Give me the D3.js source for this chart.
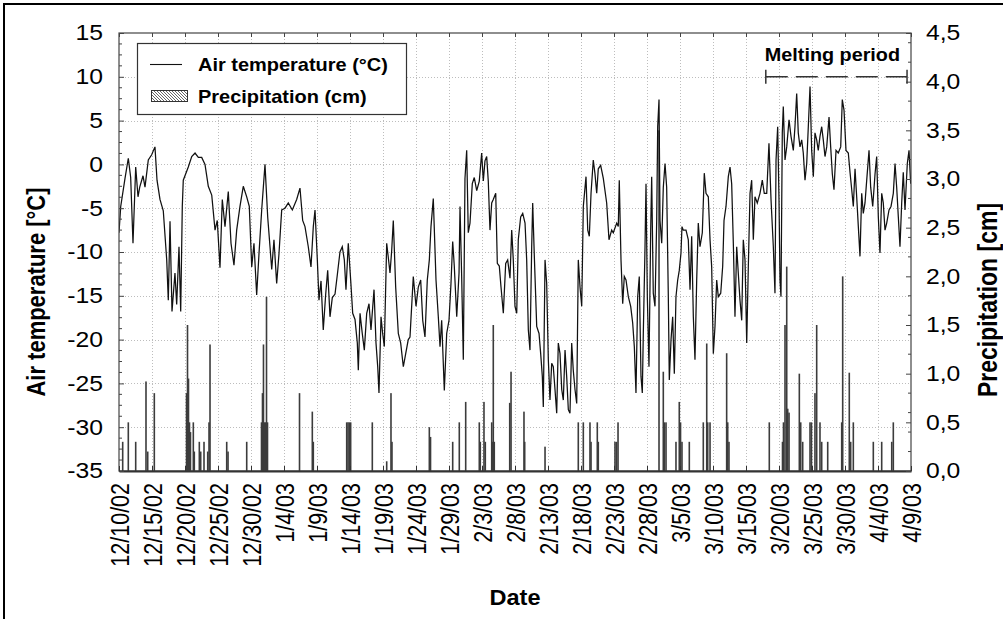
<!DOCTYPE html>
<html>
<head>
<meta charset="utf-8">
<script src="https://cdn.jsdelivr.net/npm/d3@7"></script>
<style>
  body { margin: 0; background: #fff; }
  svg text { font-family: "Liberation Sans", Arial, sans-serif; fill: #000; }
</style>
</head>
<body>
<svg id="chart" width="1003" height="619"></svg>
<script>
// Date axis: days counted from 12/10/02, labelled every 5 days
const dateTickDays = [0,5,10,15,20,25,30,35,40,45,50,55,60,65,70,75,80,85,90,95,100,105,110,115,120];
const dateTickLabels = ["12/10/02","12/15/02","12/20/02","12/25/02","12/30/02","1/4/03","1/9/03","1/14/03",
  "1/19/03","1/24/03","1/29/03","2/3/03","2/8/03","2/13/03","2/18/03","2/23/03","2/28/03","3/5/03",
  "3/10/03","3/15/03","3/20/03","3/25/03","3/30/03","4/4/03","4/9/03"];
const tempTicks = [-35,-30,-25,-20,-15,-10,-5,0,5,10,15];
const tempTickLabels = ["-35","-30","-25","-20","-15","-10","-5","0","5","10","15"];
const precipTicks = [0,0.5,1,1.5,2,2.5,3,3.5,4,4.5];
const precipTickLabels = ["0,0","0,5","1,0","1,5","2,0","2,5","3,0","3,5","4,0","4,5"];

// Air temperature (°C): day offset and value
const tempDay = [0.00,0.26,0.91,1.41,1.77,2.12,2.53,2.88,3.14,3.64,3.94,4.44,4.95,5.45,5.76,6.21,6.71,7.23,7.47,7.73,
  8.03,8.48,8.74,9.09,9.35,9.59,9.74,10.50,11.02,11.52,12.02,12.53,13.03,13.53,
  14.05,14.55,14.89,15.30,15.65,16.06,16.56,16.97,17.42,17.83,18.33,18.83,19.35,19.74,20.11,20.45,20.86,21.21,
  21.62,22.12,22.53,22.88,23.14,23.48,23.89,24.24,24.65,25.15,25.65,26.26,26.92,27.42,27.83,28.18,28.68,29.09,29.44,
  29.70,30.05,30.30,30.61,30.95,31.32,31.62,31.97,32.32,32.73,33.08,33.48,33.83,34.14,34.39,34.74,35.11,35.41,35.76,
  36.11,36.26,36.52,36.86,37.17,37.53,37.88,38.18,38.64,38.94,39.20,39.39,39.70,39.95,40.20,40.56,40.80,41.06,41.32,
  41.56,41.92,42.32,42.68,43.08,43.44,43.83,44.09,44.59,
  45.00,45.35,45.71,46.02,46.36,46.71,47.02,47.27,47.62,48.03,48.38,48.64,48.89,49.29,49.65,50.00,50.30,50.56,50.80,
  51.17,51.52,51.67,51.92,52.17,52.42,52.68,52.92,53.18,53.53,53.83,54.20,54.59,54.95,55.20,55.45,55.71,55.95,56.21,
  56.47,56.71,57.08,57.32,57.62,57.88,58.23,58.59,58.89,59.24,59.50,
  59.74,60.00,60.26,60.50,60.86,61.17,61.52,61.77,62.02,62.27,62.53,62.68,62.92,63.29,63.64,63.89,64.14,64.29,64.55,
  64.80,65.05,65.30,65.56,65.80,66.06,66.32,66.56,66.82,67.08,67.32,67.58,67.83,68.08,68.33,68.59,68.83,69.09,69.35,
  69.59,69.85,70.11,70.35,70.76,71.02,71.26,71.52,71.86,72.12,72.38,72.62,72.98,73.38,73.89,74.24,74.65,
  74.89,75.41,75.65,75.80,76.06,76.32,76.56,76.82,77.17,77.53,77.83,78.08,78.33,78.59,78.83,79.09,79.29,79.44,79.70,
  79.85,80.05,80.30,80.56,80.71,80.95,81.21,81.47,81.62,81.82,81.97,82.23,82.47,82.73,82.98,83.23,83.38,83.64,83.89,
  84.14,84.39,84.65,84.89,85.15,85.30,85.50,85.91,86.26,86.52,86.77,87.02,87.27,87.53,87.77,88.03,88.38,88.68,88.94,
  89.29,89.55,89.80,
  90.05,90.30,90.56,90.80,91.17,91.47,91.67,91.97,92.32,92.58,92.83,93.08,93.33,93.59,93.83,94.09,94.35,94.59,94.85,
  95.11,95.35,95.61,95.86,96.11,96.36,96.71,97.12,97.47,97.77,98.14,98.48,98.79,99.14,99.39,99.55,99.80,100.00,100.15,
  100.30,100.50,100.65,100.91,101.17,101.52,101.82,102.17,102.42,102.68,102.92,103.18,103.44,103.68,103.94,104.20,
  104.44,104.70,
  104.95,105.20,105.45,105.71,105.95,106.21,106.47,106.71,106.97,107.23,107.58,107.83,108.08,108.33,108.64,108.98,
  109.35,109.59,109.85,110.15,110.50,110.76,111.02,111.26,111.52,111.77,112.02,112.27,112.53,112.77,113.03,113.29,
  113.64,113.89,114.20,114.55,114.80,115.05,115.30,115.56,115.80,116.06,116.32,116.67,116.97,117.32,117.58,117.83,
  118.08,118.33,118.59,118.83,119.09,119.44,119.70,119.95];
const tempValue = [-7.8,-4.8,-1.6,0.7,-1.5,-9.0,-0.3,-3.7,-2.6,-1.3,-2.6,0.5,1.1,2.0,-1.8,-4.0,-5.3,-10.9,-15.5,-6.5,
  -16.8,-12.4,-16.0,-9.4,-16.8,-4.8,-1.8,-0.3,0.9,1.3,0.8,0.8,0.0,-2.5,
  -3.5,-7.5,-6.4,-11.8,-4.0,-7.1,-3.1,-9.0,-11.5,-7.5,-4.8,-2.5,-3.7,-4.8,-11.7,-9.0,-14.9,-10.2,
  -5.2,0.0,-6.0,-9.4,-12.0,-8.6,-13.6,-10.2,-5.2,-5.0,-4.4,-5.2,-4.0,-2.7,-6.4,-7.1,-9.4,-11.7,-7.1,
  -5.2,-10.9,-15.5,-13.3,-18.9,-14.8,-12.1,-17.4,-15.2,-14.8,-12.6,-10.0,-9.4,-10.9,-14.3,-9.0,-13.3,-17.0,-17.7,
  -20.4,-23.5,-17.0,-19.3,-21.2,-17.0,-15.9,-18.9,-14.3,-20.4,-23.1,-26.1,-17.4,-19.3,-20.8,-9.0,-10.6,-12.4,-9.8,
  -6.4,-14.0,-19.3,-20.4,-23.1,-21.6,-20.0,-19.7,-12.8,
  -16.2,-14.0,-13.2,-17.8,-19.7,-13.2,-10.9,-7.1,-3.9,-13.2,-17.4,-20.8,-17.8,-25.8,-19.3,-17.8,-13.6,-8.8,-11.6,
  -17.4,-12.4,-4.8,-12.8,-22.3,-1.6,1.6,-7.8,-6.7,-2.2,-1.5,-3.0,-1.9,1.3,-1.9,0.4,0.9,-1.9,-7.5,
  -4.4,-4.0,-3.3,-11.3,-11.6,-14.0,-17.0,-11.3,-10.9,-13.0,-7.5,
  -10.9,-16.2,-17.0,-8.6,-6.0,-5.6,-6.7,-10.9,-18.9,-21.2,-9.4,-4.4,-10.3,-18.5,-19.3,-21.6,-24.2,-27.7,-10.9,
  -13.6,-22.3,-26.9,-22.7,-23.1,-25.7,-28.4,-20.4,-21.6,-25.7,-26.9,-21.2,-24.2,-28.0,-28.4,-20.4,-23.5,-25.7,-27.3,
  -10.9,-14.0,-16.2,-4.8,-1.4,-7.5,-8.2,-3.3,0.5,-1.1,-3.3,-0.5,-0.1,-1.6,-4.4,-8.6,-7.5,
  -7.8,-6.7,-7.1,-1.8,-10.9,-15.9,-12.8,-13.2,-15.1,-16.2,-18.1,-20.8,-26.1,-15.1,-12.8,-24.2,-26.1,-19.3,-9.4,
  -2.2,-15.1,-23.1,-7.5,-1.4,-14.7,-16.2,-6.4,4.3,7.4,-6.4,-9.0,-2.6,0.1,-2.6,-15.1,-24.6,-20.0,-17.4,
  -23.9,-15.1,-13.2,-12.1,-10.1,-7.1,-7.5,-7.5,-8.6,-14.3,-8.2,-17.4,-22.3,-13.2,-6.7,-9.4,-7.8,-1.0,-3.3,
  -3.7,-8.6,-11.7,
  -21.6,-18.5,-13.2,-15.1,-14.7,-11.6,-6.4,-4.8,-1.4,-0.3,-2.2,-9.0,-17.4,-9.4,-12.4,-15.5,-17.8,-8.6,-10.9,
  -20.4,-11.7,-3.3,-1.8,-8.6,-3.7,-4.4,-3.3,-1.8,-3.3,-3.3,2.4,-4.0,-9.4,-14.7,0.5,4.3,-4.0,-13.2,
  -15.1,3.6,6.6,0.5,2.0,5.1,3.2,1.6,4.3,8.1,3.6,2.0,2.8,1.3,-1.8,0.1,
  4.3,8.9,
  1.6,-1.4,3.6,2.8,1.6,3.2,4.3,2.8,0.9,2.0,5.4,2.0,-1.1,-2.9,1.6,1.3,
  2.0,7.4,6.2,1.6,1.3,-0.9,-2.9,-4.8,-0.5,-3.7,-7.1,-10.5,-3.3,-5.6,-4.4,-1.8,
  1.6,-2.6,-4.8,-1.1,0.9,-6.0,-10.1,-3.3,-4.4,-7.5,-6.7,-5.2,-4.8,-3.3,0.1,-2.6,
  -6.0,-9.4,-4.4,-0.9,-5.2,0.1,1.6,-2.2];

// Precipitation (cm): day offset and amount
const precipDay = [0.56,1.41,2.53,4.09,4.35,5.35,10.23,10.38,10.53,10.68,10.83,11.26,11.41,12.17,12.38,12.88,13.44,
  13.64,13.79,16.32,16.52,19.35,21.59,21.74,21.89,22.05,22.20,22.35,22.50,27.35,29.29,29.44,34.50,34.70,34.90,35.10,
  38.38,40.56,41.21,41.36,47.02,47.20,50.56,51.56,52.53,54.59,54.74,55.30,55.50,56.47,56.62,56.71,56.86,59.20,59.40,
  61.36,61.47,64.55,69.59,70.35,71.36,71.52,72.47,72.62,75.15,75.38,75.61,81.82,82.47,82.62,82.88,84.39,84.89,85.08,
  85.30,86.41,88.53,89.05,89.20,89.55,92.07,92.23,92.42,98.53,100.53,100.68,100.91,101.17,101.32,101.52,103.08,
  103.29,103.59,104.70,104.92,105.45,105.71,106.21,106.47,107.38,109.50,109.65,110.65,110.86,111.26,114.29,115.56,
  117.08,117.32];
const precipValue = [0.30,0.50,0.30,0.92,0.20,0.80,0.80,1.50,0.95,0.50,0.40,0.50,0.20,0.30,0.20,0.30,0.20,
  0.50,1.30,0.30,0.20,0.30,0.50,0.80,1.30,0.50,0.50,1.79,0.50,0.80,0.61,0.30,0.50,0.50,0.50,0.50,
  0.50,0.10,0.80,0.30,0.45,0.35,0.30,0.50,0.71,0.50,0.30,0.71,0.30,0.50,0.30,1.50,0.30,0.70,1.02,
  0.61,0.30,0.25,0.50,0.50,0.50,0.30,0.50,0.30,0.30,0.30,0.50,3.50,1.02,0.50,0.50,0.30,0.71,0.50,
  0.30,0.30,0.50,1.31,0.50,0.50,1.21,0.50,0.30,0.50,0.30,0.50,1.50,2.10,0.64,0.60,1.00,
  0.50,0.30,0.50,0.50,0.80,1.50,0.50,0.30,0.30,0.50,2.00,1.01,0.30,0.50,0.30,0.30,
  0.30,0.50];

// Melting period marker (day offsets)
const meltStartDay = 98;
const meltEndDay = 119.4;

const svg = d3.select("#chart");
const plot = { left: 119, right: 911, top: 33, bottom: 471 };

// the typeface is drawn a little wider than its height
const TEXT_STRETCH = 1.15;

const x = d3.scaleLinear().domain([0, 120]).range([plot.left, plot.right]);
const yT = d3.scaleLinear().domain([-35, 15]).range([plot.bottom, plot.top]);
const yP = d3.scaleLinear().domain([0, 4.5]).range([plot.bottom, plot.top]);

// outer frame (top and left edges)
svg.append("path")
  .attr("d", `M4,619 V4 H1003`)
  .attr("fill", "none").attr("stroke", "#000").attr("stroke-width", 2);

// grid
const grid = svg.append("g").attr("stroke", "#bdbdbd").attr("stroke-width", 1).attr("stroke-dasharray", "1,2");
grid.selectAll("line.v").data(dateTickDays.slice(1, -1)).join("line")
  .attr("x1", d => Math.round(x(d)) + 0.5).attr("x2", d => Math.round(x(d)) + 0.5)
  .attr("y1", plot.top).attr("y2", plot.bottom);
grid.selectAll("line.h").data(tempTicks.slice(1, -1)).join("line")
  .attr("y1", d => Math.round(yT(d)) + 0.5).attr("y2", d => Math.round(yT(d)) + 0.5)
  .attr("x1", plot.left).attr("x2", plot.right);

svg.append("clipPath").attr("id", "plotClip").append("rect")
  .attr("x", plot.left).attr("y", plot.top)
  .attr("width", plot.right - plot.left).attr("height", plot.bottom - plot.top);

// precipitation bars
const barW = 1.6;
svg.append("g").attr("clip-path", "url(#plotClip)")
  .selectAll("rect").data(precipDay.map((d, i) => [d, precipValue[i]])).join("rect")
  .attr("x", d => x(d[0]) - barW / 2)
  .attr("y", d => yP(d[1]))
  .attr("width", barW)
  .attr("height", d => yP(0) - yP(d[1]))
  .attr("fill", "#3c3c3c");

// temperature line
const line = d3.line().x(d => x(d[0])).y(d => yT(d[1]));
svg.append("path")
  .datum(tempDay.map((d, i) => [d, tempValue[i]]))
  .attr("clip-path", "url(#plotClip)")
  .attr("d", line)
  .attr("fill", "none").attr("stroke", "#111").attr("stroke-width", 1.25).attr("stroke-linejoin", "miter");

// plot frame
svg.append("rect")
  .attr("x", plot.left).attr("y", plot.top)
  .attr("width", plot.right - plot.left).attr("height", plot.bottom - plot.top)
  .attr("fill", "none").attr("stroke", "#444").attr("stroke-width", 1.2);

// axes
const tickFont = 21.5;
const xAxis = svg.append("g").attr("transform", `translate(0,${plot.bottom})`)
  .call(d3.axisBottom(x).tickValues(dateTickDays).tickFormat((d, i) => dateTickLabels[i])
    .tickSizeInner(-5).tickSizeOuter(0).tickPadding(0));
xAxis.select(".domain").attr("stroke", "#333").attr("stroke-width", 2);
xAxis.selectAll(".tick line").attr("stroke", "#333");
xAxis.selectAll(".tick text")
  .attr("font-size", tickFont)
  .attr("text-anchor", "end")
  .attr("transform", `scale(${TEXT_STRETCH + 0.05},1) rotate(-90)`)
  .attr("x", -12).attr("y", 0).attr("dy", "0.35em");

const xTop = svg.append("g").attr("transform", `translate(0,${plot.top})`)
  .call(d3.axisTop(x).tickValues(dateTickDays).tickFormat("").tickSizeInner(-4).tickSizeOuter(0));
xTop.select(".domain").remove();
xTop.selectAll(".tick line").attr("stroke", "#444");

const yAxisL = svg.append("g").attr("transform", `translate(${plot.left},0)`)
  .call(d3.axisLeft(yT).tickValues(tempTicks).tickFormat((d, i) => tempTickLabels[i])
    .tickSizeInner(-5).tickSizeOuter(0));
yAxisL.select(".domain").remove();
yAxisL.selectAll(".tick line").attr("stroke", "#444");
yAxisL.selectAll(".tick text").attr("font-size", tickFont)
  .attr("x", 0).attr("transform", `translate(-16,0) scale(${TEXT_STRETCH},1)`);

const yAxisR = svg.append("g").attr("transform", `translate(${plot.right},0)`)
  .call(d3.axisRight(yP).tickValues(precipTicks).tickFormat((d, i) => precipTickLabels[i])
    .tickSizeInner(-5).tickSizeOuter(0));
yAxisR.select(".domain").remove();
yAxisR.selectAll(".tick line").attr("stroke", "#444");
yAxisR.selectAll(".tick text").attr("font-size", tickFont)
  .attr("x", 0).attr("transform", `translate(15,0) scale(${TEXT_STRETCH},1)`);

// minor ticks
const minorT = d3.range(-35, 15.01, 1.25).filter(v => v % 5 !== 0);
svg.append("g").selectAll("line").data(minorT).join("line")
  .attr("x1", plot.left).attr("x2", plot.left + 3)
  .attr("y1", d => yT(d)).attr("y2", d => yT(d)).attr("stroke", "#444");
const minorP = d3.range(0.2, 4.5, 0.2).filter(v => Math.abs(v * 2 - Math.round(v * 2)) > 1e-6);
svg.append("g").selectAll("line").data(minorP).join("line")
  .attr("x1", plot.right - 3).attr("x2", plot.right)
  .attr("y1", d => yP(d)).attr("y2", d => yP(d)).attr("stroke", "#444");

// axis titles
function stretchedText(parent, tx, ty, rot, size, s, str) {
  return parent.append("text")
    .attr("transform", `translate(${tx},${ty}) scale(${s},1)` + (rot ? ` rotate(${rot})` : ""))
    .attr("text-anchor", "middle").attr("font-weight", "bold").attr("font-size", size)
    .text(str);
}
stretchedText(svg, 45, 292, -90, 22, 1.2, "Air temperature [°C]");
stretchedText(svg, 997, 300, -90, 23, 1.2, "Precipitation [cm]");
stretchedText(svg, (plot.left + plot.right) / 2, 605, 0, 22, 1.07, "Date");

// melting period marker
const meltY = yT(10);
const mx1 = x(meltStartDay), mx2 = x(meltEndDay);
const melt = svg.append("g").attr("stroke", "#333").attr("stroke-width", 1.5);
melt.append("line").attr("x1", mx1).attr("x2", mx2).attr("y1", meltY).attr("y2", meltY)
  .attr("stroke-dasharray", "22,8");
melt.append("line").attr("x1", mx1).attr("x2", mx1).attr("y1", meltY - 7).attr("y2", meltY + 7);
melt.append("line").attr("x1", mx2).attr("x2", mx2).attr("y1", meltY - 7).attr("y2", meltY + 7);
stretchedText(svg, (mx1 + mx2) / 2 - 4, meltY - 16, 0, 18, 1.1, "Melting period");

// legend
const defs = svg.append("defs");
const pat = defs.append("pattern").attr("id", "hatch").attr("patternUnits", "userSpaceOnUse")
  .attr("width", 3).attr("height", 3);
pat.append("rect").attr("width", 3).attr("height", 3).attr("fill", "#fff");
pat.append("path").attr("d", "M-1,-1 L4,4").attr("stroke", "#555").attr("stroke-width", 0.9);

const lg = svg.append("g");
lg.append("rect").attr("x", 137.5).attr("y", 43.5).attr("width", 269).attr("height", 71)
  .attr("fill", "#fff").attr("stroke", "#333").attr("stroke-width", 1.2);
lg.append("line").attr("x1", 150).attr("x2", 182).attr("y1", 64.5).attr("y2", 64.5)
  .attr("stroke", "#111").attr("stroke-width", 1.1);
lg.append("rect").attr("x", 151.5).attr("y", 90.5).attr("width", 36).attr("height", 11)
  .attr("fill", "url(#hatch)").attr("stroke", "#333").attr("stroke-width", 1);
lg.append("text").attr("transform", "translate(198,71) scale(1.11,1)")
  .attr("font-size", 18).attr("font-weight", "bold").text("Air temperature (°C)");
lg.append("text").attr("transform", "translate(198,103) scale(1.11,1)")
  .attr("font-size", 18).attr("font-weight", "bold").text("Precipitation (cm)");
</script>
</body>
</html>
